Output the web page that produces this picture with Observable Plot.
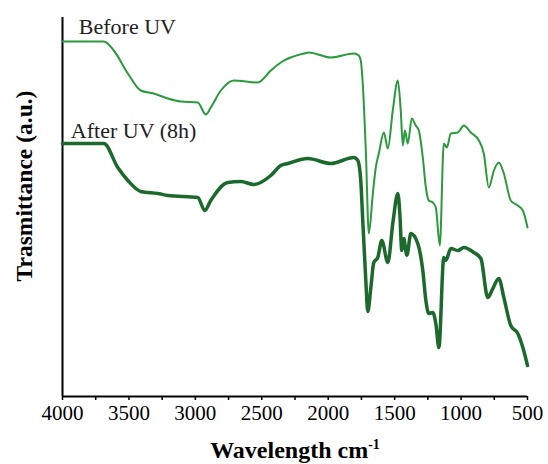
<!DOCTYPE html>
<html>
<head>
<meta charset="utf-8">
<script src="https://cdn.jsdelivr.net/npm/d3@7"></script>
<script src="https://cdn.jsdelivr.net/npm/@observablehq/plot@0.6"></script>
<style>
  html, body { margin: 0; padding: 0; background: #fff; }
</style>
</head>
<body>
<div id="chart"></div>
<script>
// Wavenumber (cm^-1) and transmittance (arbitrary units)
const wnBefore = [4000, 3689, 3614, 3508, 3411, 3313, 3207, 3110, 2982, 2921, 2884, 2808, 2711, 2530, 2432, 2357, 2184, 2146, 1980, 1807, 1770, 1755, 1740, 1717, 1694, 1664, 1642, 1619, 1581, 1551, 1514, 1476, 1454, 1438, 1423, 1401, 1371, 1341, 1318, 1288, 1265, 1243, 1213, 1190, 1160, 1130, 1107, 1077, 1024, 979, 927, 866, 829, 791, 753, 716, 678, 626, 573, 535, 500];
const tBefore  = [359, 359, 350, 327, 310, 307, 302, 299, 298, 286, 293, 310, 320, 318, 330, 338, 347, 348, 343, 347, 345, 340, 317, 250, 167, 207, 233, 247, 268, 252, 290, 320, 290, 255, 270, 257, 282, 275, 270, 243, 213, 200, 198, 193, 155, 257, 253, 267, 268, 275, 268, 260, 247, 213, 230, 238, 227, 200, 195, 190, 173];

const wnAfter = [4000, 3689, 3584, 3508, 3411, 3283, 3207, 2982, 2929, 2884, 2756, 2658, 2560, 2432, 2357, 2304, 2154, 1980, 1807, 1777, 1755, 1740, 1717, 1702, 1679, 1657, 1627, 1597, 1551, 1514, 1476, 1461, 1446, 1431, 1408, 1378, 1326, 1288, 1265, 1243, 1213, 1190, 1167, 1130, 1115, 1077, 1024, 979, 904, 851, 799, 761, 716, 678, 626, 573, 535, 500];
const tAfter  = [257, 257, 233, 220, 209, 207, 205, 203, 190, 200, 218, 219, 216, 225, 235, 237, 242, 237, 243, 240, 220, 180, 120, 89, 113, 138, 143, 160, 138, 177, 207, 187, 150, 162, 145, 167, 157, 130, 100, 87, 88, 77, 53, 143, 140, 152, 150, 153, 148, 142, 103, 112, 122, 103, 75, 67, 53, 35];

const seriesNames = ["Before UV", "After UV (8h)"];
const labelWn = [3877, 3937];
const labelT = [367, 263];

const majorTicks = [4000, 3500, 3000, 2500, 2000, 1500, 1000, 500];
const minorTicks = [3750, 3250, 2750, 2250, 1750, 1250, 750];

const xTitle = "Wavelength cm";
const xTitleSup = "-1";
const yTitle = "Trasmittance (a.u.)";

const before = wnBefore.map((w, i) => ({wn: w, t: tBefore[i]}));
const after = wnAfter.map((w, i) => ({wn: w, t: tAfter[i]}));
const labels = seriesNames.map((s, i) => ({name: s, wn: labelWn[i], t: labelT[i]}));

const plot = Plot.plot({
  width: 548,
  height: 464,
  marginTop: 17,
  marginBottom: 68,
  marginLeft: 62,
  marginRight: 21,
  style: {fontFamily: "'Liberation Serif', 'Times New Roman', serif", background: "#fff", color: "#000"},
  x: {domain: [4000, 500]},
  y: {domain: [4, 383]},
  marks: [
    Plot.axisX({ticks: majorTicks, tickSize: 4, tickPadding: 5, fontSize: 21, strokeWidth: 1.5, label: null, tickFormat: d => String(d)}),
    Plot.axisX({ticks: minorTicks, tickSize: 4, strokeWidth: 1.5, tickFormat: () => "", label: null}),
    Plot.axisY({ticks: [], label: null}),
    Plot.text([xTitle + xTitleSup], {frameAnchor: "bottom", dy: 61, textAnchor: "middle", lineAnchor: "bottom", fontSize: 24, fontWeight: "bold", text: d => d}),
    Plot.text([yTitle], {frameAnchor: "left", rotate: -90, dx: -38, dy: -21, textAnchor: "middle", lineAnchor: "middle", fontSize: 23.5, fontWeight: "bold", text: d => d}),
    Plot.ruleX([4000], {stroke: "#000", strokeWidth: 2}),
    Plot.ruleY([4], {stroke: "#000", strokeWidth: 2}),
    Plot.line(before, {x: "wn", y: "t", stroke: "#2a9a3c", strokeWidth: 2, curve: "monotone-x"}),
    Plot.line(after, {x: "wn", y: "t", stroke: "#1b6a2c", strokeWidth: 3.5, curve: "monotone-x"}),
    Plot.text(labels, {x: "wn", y: "t", text: "name", textAnchor: "start", lineAnchor: "bottom", fontSize: 22, fill: "#222"})
  ]
});

// superscript for the unit
d3.select(plot).selectAll("text").each(function() {
  if (this.textContent === xTitle + xTitleSup) {
    const sel = d3.select(this);
    sel.text(null);
    sel.append("tspan").text(xTitle);
    sel.append("tspan").attr("dy", "-0.6em").attr("font-size", 14).text(xTitleSup);
  }
});

document.getElementById("chart").appendChild(plot);
</script>
</body>
</html>
